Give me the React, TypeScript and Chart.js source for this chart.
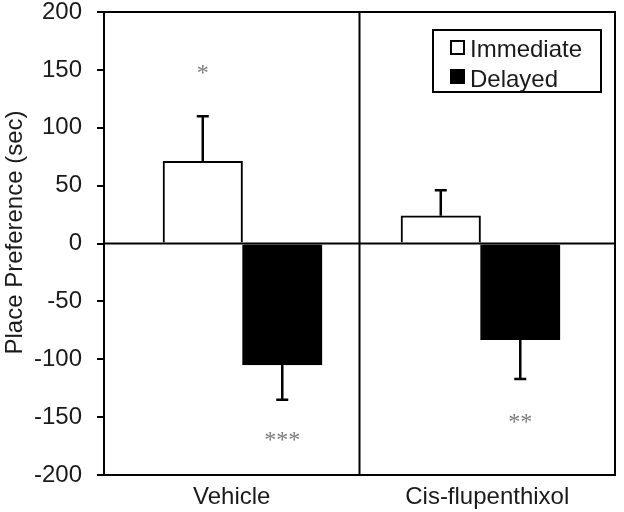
import { useEffect, useRef } from "react";
import { Chart, registerables } from "chart.js";

Chart.register(...registerables);

const categories = ["Vehicle", "Cis-flupenthixol"];
const seriesNames = ["Immediate", "Delayed"];
const immediate = [71, 24];
const delayed = [-105, -83];
const immediateErr = [39, 22];
const delayedErr = [30, 34];
const immediateSig = ["*", ""];
const delayedSig = ["***", "**"];
const immediateSigAt = [150, 0];
const delayedSigAt = [-167, -151];
const yMin = -200;
const yMax = 200;
const yStep = 50;
const yTitle = "Place Preference (sec)";

const FONT = "'Liberation Sans', Arial, sans-serif";
const TEXT = "#1a1a1a";

const errors = [immediateErr, delayedErr];
const sigs = [immediateSig, delayedSig];
const sigAt = [immediateSigAt, delayedSigAt];

const decorPlugin = {
  id: "decor",
  afterDatasetsDraw(chart: any) {
    const ctx = chart.ctx;
    const area = chart.chartArea;
    const y = chart.scales.y;
    const x = chart.scales.x;
    ctx.save();
    ctx.strokeStyle = "#000";
    ctx.lineWidth = 2.5;
    // error bars
    chart.data.datasets.forEach((ds: any, di: number) => {
      const meta = chart.getDatasetMeta(di);
      meta.data.forEach((el: any, j: number) => {
        const v = ds.data[j].y;
        const e = errors[di][j];
        const end = v >= 0 ? v + e : v - e;
        const py = y.getPixelForValue(end);
        ctx.beginPath();
        ctx.moveTo(el.x, el.y);
        ctx.lineTo(el.x, py);
        ctx.moveTo(el.x - 6, py);
        ctx.lineTo(el.x + 6, py);
        ctx.stroke();
        const s = sigs[di][j];
        if (s) {
          ctx.save();
          ctx.fillStyle = "#7a7a7a";
          ctx.font = "24px 'Liberation Serif', 'DejaVu Serif', serif";
          ctx.textAlign = "center";
          ctx.textBaseline = "alphabetic";
          const m = ctx.measureText(s);
          const cy = y.getPixelForValue(sigAt[di][j]);
          const off = (m.actualBoundingBoxAscent - m.actualBoundingBoxDescent) / 2;
          ctx.fillText(s, el.x, cy + off);
          ctx.restore();
        }
      });
    });
    // zero line
    ctx.lineWidth = 2;
    const z = y.getPixelForValue(0);
    ctx.beginPath();
    ctx.moveTo(area.left, z);
    ctx.lineTo(area.right, z);
    ctx.stroke();
    // frame
    ctx.strokeRect(area.left, area.top, area.right - area.left, area.bottom - area.top);
    // divider
    const mid = (x.getPixelForValue(0) + x.getPixelForValue(1)) / 2;
    ctx.beginPath();
    ctx.moveTo(mid, area.top);
    ctx.lineTo(mid, area.bottom);
    ctx.stroke();
    // legend
    const bx = area.right - 182;
    const by = area.top + 18;
    ctx.strokeRect(bx, by, 168, 62);
    const fills = ["#fff", "#000"];
    const sqY = [by + 11, by + 40];
    const txY = [by + 27, by + 57];
    ctx.font = "24px " + FONT;
    ctx.textAlign = "left";
    ctx.textBaseline = "alphabetic";
    seriesNames.forEach((n, i) => {
      ctx.fillStyle = fills[i];
      ctx.fillRect(bx + 18, sqY[i], 13, 13);
      ctx.lineWidth = 2;
      ctx.strokeRect(bx + 18, sqY[i], 13, 13);
      ctx.fillStyle = TEXT;
      ctx.fillText(n, bx + 37, txY[i]);
    });
    // y-axis title
    ctx.save();
    ctx.translate(15, (area.top + area.bottom) / 2 - 11);
    ctx.rotate(-Math.PI / 2);
    ctx.font = "24px " + FONT;
    ctx.fillStyle = TEXT;
    ctx.textAlign = "center";
    ctx.textBaseline = "middle";
    ctx.fillText(yTitle, 0, 0);
    ctx.restore();
    ctx.restore();
  },
};

export default function App() {
  const ref = useRef<HTMLCanvasElement>(null);
  useEffect(() => {
    if (!ref.current) return;
    const chart = new Chart(ref.current, {
      type: "bar",
      data: {
        labels: categories,
        datasets: [
          {
            label: seriesNames[0],
            data: categories.map((_, i) => ({ x: i, y: immediate[i] })),
            backgroundColor: "#fff",
            borderColor: "#000",
            borderWidth: 2,
            xAxisID: "xb",
            barThickness: 79.5,
          } as any,
          {
            label: seriesNames[1],
            data: categories.map((_, i) => ({ x: i, y: delayed[i] })),
            backgroundColor: "#000",
            borderColor: "#000",
            borderWidth: 2,
            xAxisID: "xb",
            barThickness: 79.5,
          } as any,
        ],
      },
      plugins: [decorPlugin],
      options: {
        responsive: false,
        animation: false,
        devicePixelRatio: 1,
        layout: { padding: { top: 12, right: 9, left: 0, bottom: 0 } },
        plugins: { legend: { display: false }, tooltip: { enabled: false } },
        scales: {
          x: {
            type: "category",
            offset: true,
            grid: { display: false },
            border: { display: true, color: "#000", width: 2 },
            ticks: { font: { family: FONT, size: 24 }, color: TEXT, padding: 0 },
            afterFit: (s: any) => {
              s.height = 37;
              s.paddingLeft = 0;
              s.paddingRight = 0;
            },
          },
          xb: {
            type: "linear",
            display: false,
            offset: false,
            min: -0.582,
            max: 1.565,
          },
          y: {
            type: "linear",
            min: yMin,
            max: yMax,
            ticks: {
              stepSize: yStep,
              font: { family: FONT, size: 24, lineHeight: 1 },
              color: TEXT,
              padding: 15,
            },
            grid: {
              drawOnChartArea: false,
              drawTicks: true,
              tickLength: 7,
              color: "#000",
              lineWidth: 2,
            },
            border: { display: true, color: "#000", width: 2 },
            title: { display: false },
            afterFit: (s: any) => {
              s.width = 104;
              s.paddingTop = 0;
              s.paddingBottom = 0;
            },
          },
        },
      } as any,
    });
    return () => chart.destroy();
  }, []);
  return (
    <div style={{ position: "absolute", left: 0, top: 0, width: 624, height: 512, background: "#fff" }}>
      <canvas ref={ref} width={624} height={512} />
    </div>
  );
}
